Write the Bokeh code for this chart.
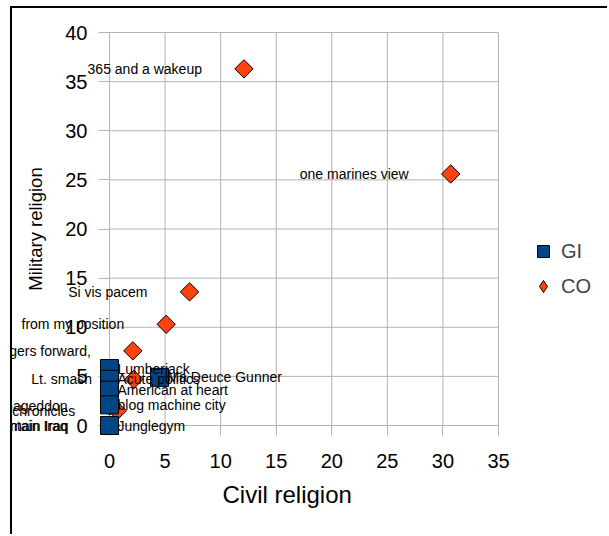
import math
from bokeh.plotting import figure
from bokeh.models import ColumnDataSource, Legend, LegendItem, FixedTicker, Range1d, Title
from bokeh.embed import file_html
from bokeh.resources import INLINE
from bokeh.core.properties import value

# ---- data ----
gi_names = ["Lumberjack", "Acute politics", "American at heart", "blog machine city", "Junglegym", "Ma Deuce Gunner"]
gi_civil = [0, 0, 0, 0, 0, 4.5]
gi_military = [5.8, 4.7, 3.6, 2.1, 0, 4.9]

co_names = ["365 and a wakeup", "one marines view", "Si vis pacem", "from my position", "Badgers forward,",
            "Lt. smash", "Armageddon", "Army chronicles", "Mountain Iraq", "Domain Iraq"]
co_civil = [12.1, 30.7, 7.2, 5.1, 2.1, 2.2, 0, 0.7, 0, 0.1]
co_military = [36.3, 25.6, 13.6, 10.3, 7.6, 4.7, 2.0, 1.5, 0, 0]

x_ticks = [0, 5, 10, 15, 20, 25, 30, 35]
y_ticks = [0, 5, 10, 15, 20, 25, 30, 35, 40]
x_title = "Civil religion"
y_title = "Military religion"

FONT = "Liberation Sans"
GRID = "#b3b3b3"
W, H = 597, 528
LEFT, TOP, BOTTOM = 97, 24, 111
PLOT_W = 389                      # pixel width of the 0..35 plotting area
FRAME_W = W - LEFT                # frame also holds the legend on its right

x0, x1 = x_ticks[0], x_ticks[-1]
y0, y1 = y_ticks[0], y_ticks[-1]
x_end = x0 + (x1 - x0) * FRAME_W / PLOT_W

gi_src = ColumnDataSource(dict(x=gi_civil, y=gi_military, name=gi_names))
co_src = ColumnDataSource(dict(x=co_civil, y=co_military, name=co_names))

p = figure(width=W, height=H, x_range=Range1d(x0, x_end), y_range=Range1d(y0, y1),
           output_backend="svg", toolbar_location=None,
           min_border_left=LEFT, min_border_right=0, min_border_top=TOP, min_border_bottom=BOTTOM)
# black frame lines of the surrounding picture (left and top edges)
p.styles = {"margin-left": "10px", "margin-top": "6px",
            "border-left": "2px solid black", "border-top": "2px solid black"}
p.background_fill_color = "white"
p.border_fill_color = "white"
p.outline_line_color = None
p.grid.visible = False

for ax, t in ((p.xaxis, x_ticks), (p.yaxis, y_ticks)):
    ax.ticker = FixedTicker(ticks=t)
    ax.axis_line_color = GRID
    ax.major_tick_line_color = GRID
    ax.minor_tick_line_color = None
    ax.major_tick_in = 0
    ax.major_label_text_font = FONT
    ax.major_label_text_font_size = "20px"
    ax.major_label_text_color = "black"
    ax.axis_label_text_font = FONT
    ax.axis_label_text_font_style = "normal"
    ax.axis_label_text_color = "black"

p.xaxis.bounds = (x0, x1)
p.xaxis.major_tick_out = 10
p.xaxis.major_label_standoff = 18

p.yaxis.major_tick_out = 11
p.yaxis.major_label_standoff = 11
p.yaxis.axis_label = y_title
p.yaxis.axis_label_text_font_size = "18.5px"
p.yaxis.axis_label_standoff = 16

# x-axis title placed under the 0..35 area
p.add_layout(Title(text=x_title, align="left", offset=113, standoff=16,
                   text_font=FONT, text_font_size="24px", text_font_style="normal",
                   text_color="black"), "below")

# grid lines limited to the 0..35 x 0..40 plotting area
p.segment(x0=x_ticks, x1=x_ticks, y0=[y0] * len(x_ticks), y1=[y1] * len(x_ticks),
          line_color=GRID, line_width=1, level="overlay")
p.segment(x0=[x0] * len(y_ticks), x1=[x1] * len(y_ticks), y0=y_ticks, y1=y_ticks,
          line_color=GRID, line_width=1, level="overlay")

co_r = p.scatter("x", "y", source=co_src, marker="square", angle=math.pi / 4, size=13,
                 fill_color="#ff420e", line_color="black", line_width=1, level="overlay")
gi_r = p.scatter("x", "y", source=gi_src, marker="square", size=18,
                 fill_color="#004586", line_color="black", line_width=1, level="overlay")
# legend-only sample for the CO series (rhombus shape), not drawn in the plot
co_key = p.scatter("x", "y", source=co_src, marker="diamond", size=18,
                   fill_color="#ff420e", line_color="black", line_width=1, visible=False)

p.text("x", "y", text="name", source=co_src, text_align="right", text_baseline="middle",
       x_offset=-42, text_font=value(FONT), text_font_size="14px", text_color="black", level="overlay")
p.text("x", "y", text="name", source=gi_src, text_align="left", text_baseline="middle",
       x_offset=8, text_font=value(FONT), text_font_size="14px", text_color="black", level="overlay")

legend = Legend(items=[LegendItem(label="GI", renderers=[gi_r]), LegendItem(label="CO", renderers=[co_key])],
                location=(PLOT_W + 30, 124), padding=0, margin=0, spacing=5,
                glyph_width=30, glyph_height=30, label_standoff=3,
                label_text_font=FONT, label_text_font_size="20px",
                border_line_color=None, background_fill_alpha=0,
                inactive_fill_alpha=0)
p.add_layout(legend)

open("out.html", "w").write(file_html(p, INLINE))
